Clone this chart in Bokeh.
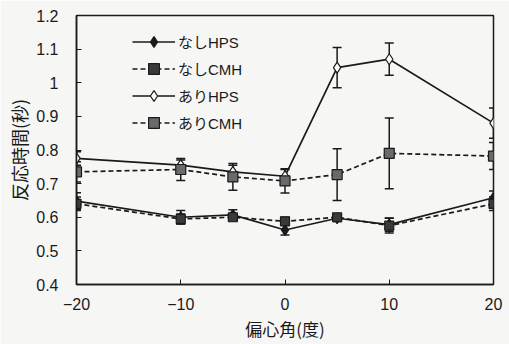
from bokeh.plotting import figure
from bokeh.models import ColumnDataSource, FixedTicker, Legend, LegendItem, Whisker, TeeHead, Range1d
from bokeh.embed import file_html
from bokeh.resources import INLINE

# eccentricity angle (deg)
angles = [-20, -10, -5, 0, 5, 10, 20]

# reaction time (s) and standard errors per condition
nashi_hps = [0.648, 0.600, 0.607, 0.562, 0.597, 0.578, 0.658]
nashi_hps_err = [0.025, 0.020, 0.015, 0.015, 0.010, 0.020, 0.020]
nashi_cmh = [0.640, 0.595, 0.600, 0.588, 0.600, 0.575, 0.640]
nashi_cmh_err = [0.020, 0.015, 0.010, 0.012, 0.010, 0.022, 0.020]
ari_hps = [0.775, 0.755, 0.735, 0.722, 1.045, 1.070, 0.880]
ari_hps_err = [0.020, 0.015, 0.020, 0.020, 0.060, 0.048, 0.045]
ari_cmh = [0.735, 0.742, 0.720, 0.708, 0.727, 0.790, 0.782]
ari_cmh_err = [0.030, 0.033, 0.040, 0.036, 0.077, 0.105, 0.040]

series_names = ["なしHPS", "なしCMH", "ありHPS", "ありCMH"]

xticks = [-20, -10, 0, 10, 20]
xtick_labels = ["\u221220", "\u221210", "0", "10", "20"]
yticks = [0.4, 0.5, 0.6, 0.7, 0.8, 0.9, 1.0, 1.1, 1.2]
ytick_labels = ["0.4", "0.5", "0.6", "0.7", "0.8", "0.9", "1", "1.1", "1.2"]

LATIN = "Liberation Sans"
JP = "Noto Sans CJK JP"
MIXED = "Liberation Sans, Noto Sans CJK JP"
INK = "#1a1a1a"
PAPER = "#f6f6f5"

p = figure(width=509, height=344, output_backend="svg", toolbar_location=None,
           x_range=Range1d(-20, 20), y_range=Range1d(0.4, 1.2),
           min_border_left=76, min_border_right=16, min_border_top=15, min_border_bottom=60)
p.background_fill_color = PAPER
p.border_fill_color = PAPER
p.grid.visible = False
p.outline_line_color = INK
p.outline_line_width = 1.5

for ax in (p.xaxis[0], p.yaxis[0]):
    ax.axis_line_color = INK
    ax.axis_line_width = 1.5
    ax.major_tick_line_color = INK
    ax.major_tick_in = 5
    ax.major_tick_out = 0
    ax.minor_tick_line_color = None
    ax.major_label_text_font = LATIN
    ax.major_label_text_font_size = "16px"
    ax.major_label_text_color = INK
    ax.axis_label_text_font = JP
    ax.axis_label_text_font_style = "normal"
    ax.axis_label_text_color = INK

p.xaxis.ticker = FixedTicker(ticks=xticks)
p.xaxis.major_label_overrides = dict(zip(xticks, xtick_labels))
p.yaxis.ticker = FixedTicker(ticks=yticks)
p.yaxis.major_label_overrides = dict(zip(yticks, ytick_labels))
p.xaxis.major_label_standoff = 13
p.yaxis.major_label_standoff = 18
p.xaxis.axis_label = "偏心角(度)"
p.yaxis.axis_label = "反応時間(秒)"
p.xaxis.axis_label_text_font_size = "17px"
p.yaxis.axis_label_text_font_size = "18px"
p.xaxis.axis_label_standoff = 3
p.yaxis.axis_label_standoff = 1

def add_series(vals, errs, dash, marker, fill, size):
    src = ColumnDataSource(dict(
        x=angles, y=vals,
        lo=[v - e for v, e in zip(vals, errs)],
        hi=[v + e for v, e in zip(vals, errs)],
    ))
    w = Whisker(source=src, base="x", lower="lo", upper="hi",
                line_color=INK, line_width=1.5,
                upper_head=TeeHead(size=9, line_color=INK, line_width=1.5),
                lower_head=TeeHead(size=9, line_color=INK, line_width=1.5))
    p.add_layout(w)
    ln = p.line("x", "y", source=src, line_color=INK, line_width=1.7, line_dash=dash)
    mk = p.scatter("x", "y", source=src, marker=marker, size=size,
                   fill_color=fill, line_color=INK, line_width=1.2)
    return [ln, mk]

r1 = add_series(nashi_hps, nashi_hps_err, "solid", "diamond", INK, 11)
r2 = add_series(nashi_cmh, nashi_cmh_err, "5 3", "square", "#3a3a3a", 9)
r3 = add_series(ari_hps, ari_hps_err, "solid", "diamond", "white", 11)
r4 = add_series(ari_cmh, ari_cmh_err, "5 3", "square", "#6a6a6a", 10)

legend = Legend(items=[LegendItem(label=n, renderers=r) for n, r in zip(series_names, [r1, r2, r3, r4])],
                location=(56, 148), orientation="vertical",
                background_fill_alpha=0, border_line_color=None,
                padding=0, margin=0, spacing=0,
                glyph_width=43, glyph_height=27, label_height=27,
                label_standoff=3,
                label_text_font=MIXED, label_text_font_size="15px",
                label_text_color=INK)
p.add_layout(legend)

open("out.html", "w").write(file_html(p, INLINE))
